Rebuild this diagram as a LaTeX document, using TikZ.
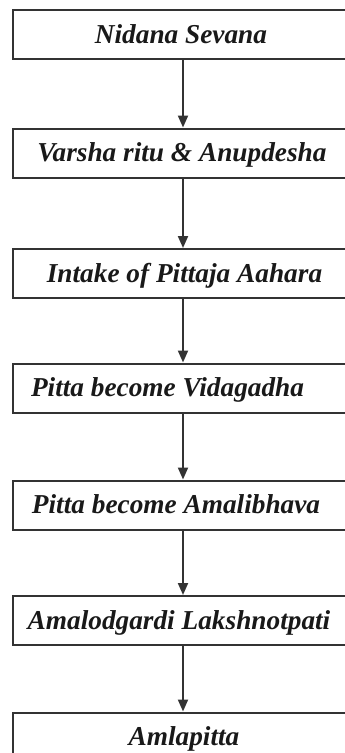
\documentclass[tikz,border=0pt]{standalone}
\usepackage{fontspec}
\setmainfont{Liberation Serif}
\usetikzlibrary{arrows.meta}
\begin{document}
\begin{tikzpicture}[x=1pt,y=-1pt,
  boxst/.style={draw=black!80,line width=2pt,rectangle,minimum width=340pt,minimum height=49pt,inner sep=0pt,anchor=center},
  txt/.style={anchor=base,inner sep=0pt,font=\fontsize{27.3}{31}\selectfont\bfseries\itshape,text=black!90},
  arr/.style={draw=black!80,line width=2pt,-{Triangle[width=10pt,length=12pt]}}]
\clip (0,0) rectangle (345,753);
\useasboundingbox (0,0) rectangle (345,753);
\fill[white] (0,0) rectangle (345,753);
\node[boxst] (b1) at (183,34.5) {};
\node[boxst] (b2) at (183,153) {};
\node[boxst] (b3) at (183,273.5) {};
\node[boxst] (b4) at (183,388) {};
\node[boxst] (b5) at (183,505) {};
\node[boxst] (b6) at (183,620.5) {};
\node[boxst] (b7) at (183,737) {};
\node[txt] (t1) at (181,43) {Nidana Sevana};
\node[txt] (t2) at (182,161.5) {Varsha ritu \& Anupdesha};
\node[txt] (t3) at (184.5,282) {Intake of Pittaja Aahara};
\node[txt] (t4) at (167.5,396.5) {Pitta become Vidagadha};
\node[txt] (t5) at (176,513.5) {Pitta become Amalibhava};
\node[txt] (t6) at (179,629) {Amalodgardi Lakshnotpati};
\node[txt] (t7) at (184,745.5) {Amlapitta};
\draw[arr] (b1.south) -- (b2.north);
\draw[arr] (b2.south) -- (b3.north);
\draw[arr] (b3.south) -- (b4.north);
\draw[arr] (b4.south) -- (b5.north);
\draw[arr] (b5.south) -- (b6.north);
\draw[arr] (b6.south) -- (b7.north);
\end{tikzpicture}
\end{document}
